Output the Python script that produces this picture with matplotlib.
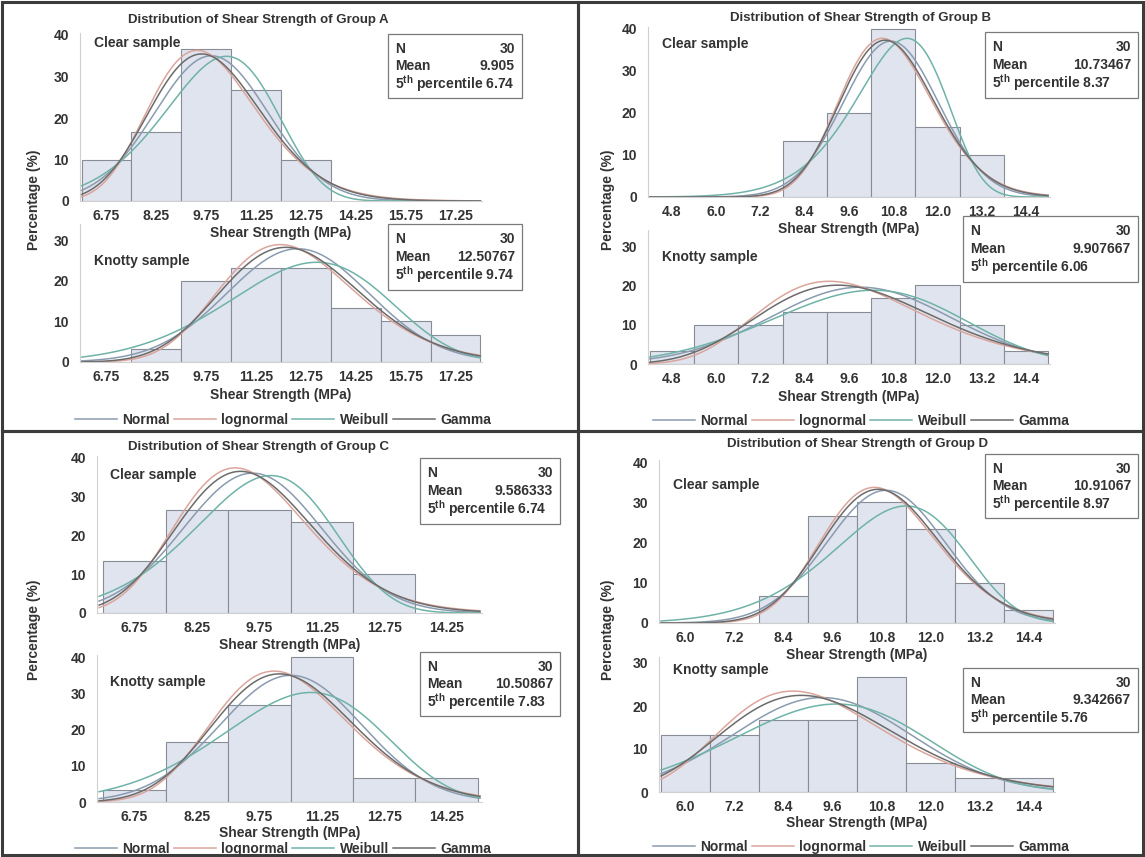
import math
import numpy as np
import matplotlib
matplotlib.use("Agg")
import matplotlib.pyplot as plt
from matplotlib.patches import Rectangle
from matplotlib.lines import Line2D

plt.rcParams['font.family'] = ['Liberation Sans', 'DejaVu Sans']
plt.rcParams['font.weight'] = 'bold'
plt.rcParams['axes.labelweight'] = 'bold'
plt.rcParams['mathtext.fontset'] = 'custom'
plt.rcParams['mathtext.rm'] = 'Liberation Sans:bold'
plt.rcParams['mathtext.bf'] = 'Liberation Sans:bold'

# ---- data ----
ticks_A = [6.75, 8.25, 9.75, 11.25, 12.75, 14.25, 15.75, 17.25]
ticks_B = [4.8, 6.0, 7.2, 8.4, 9.6, 10.8, 12.0, 13.2, 14.4]
ticks_C = [6.75, 8.25, 9.75, 11.25, 12.75, 14.25]
ticks_D = [6.0, 7.2, 8.4, 9.6, 10.8, 12.0, 13.2, 14.4]

A_clear_bins = [6.75, 8.25, 9.75, 11.25, 12.75]
A_clear_pct = [10.0, 16.67, 36.67, 26.67, 10.0]
A_knotty_bins = [6.75, 8.25, 9.75, 11.25, 12.75, 14.25, 15.75, 17.25]
A_knotty_pct = [0.0, 3.33, 20.0, 23.33, 23.33, 13.33, 10.0, 6.67]

B_clear_bins = [8.4, 9.6, 10.8, 12.0, 13.2]
B_clear_pct = [13.33, 20.0, 40.0, 16.67, 10.0]
B_knotty_bins = [4.8, 6.0, 7.2, 8.4, 9.6, 10.8, 12.0, 13.2, 14.4]
B_knotty_pct = [3.33, 10.0, 10.0, 13.33, 13.33, 16.67, 20.0, 10.0, 3.33]

C_clear_bins = [6.75, 8.25, 9.75, 11.25, 12.75]
C_clear_pct = [13.33, 26.67, 26.67, 23.33, 10.0]
C_knotty_bins = [6.75, 8.25, 9.75, 11.25, 12.75, 14.25]
C_knotty_pct = [3.33, 16.67, 26.67, 40.0, 6.67, 6.67]

D_clear_bins = [8.4, 9.6, 10.8, 12.0, 13.2, 14.4]
D_clear_pct = [6.67, 26.67, 30.0, 23.33, 10.0, 3.33]
D_knotty_bins = [6.0, 7.2, 8.4, 9.6, 10.8, 12.0, 13.2, 14.4]
D_knotty_pct = [13.33, 13.33, 16.67, 16.67, 26.67, 6.67, 3.33, 3.33]

# N, mean, 5th percentile shown in the boxes
n_vals = [30, 30, 30, 30, 30, 30, 30, 30]
mean_txt = ['9.905', '12.50767', '10.73467', '9.907667',
            '9.586333', '10.50867', '10.91067', '9.342667']
p5_txt = ['6.74', '9.74', '8.37', '6.06', '6.74', '7.83', '8.97', '5.76']
fit_sd = [1.71, 2.14, 1.29, 2.45, 1.66, 1.71, 1.45, 2.18]
weib_sd = [1.75, 2.45, 1.34, 2.5, 1.72, 2.0, 1.7, 2.3]

fit_names = ['Normal', 'lognormal', 'Weibull', 'Gamma']
fit_colors = ['#8a9bb0', '#dba59c', '#6fb3a8', '#6b6b6b']

TXT = '#333333'
FS = 9.5
W, H = 1145, 857
fig = plt.figure(figsize=(W / 100, H / 100), dpi=100)


def pdf_normal(x, m, s):
    return np.exp(-(x - m) ** 2 / (2 * s * s)) / (s * math.sqrt(2 * math.pi))


def pdf_lognormal(x, m, s):
    sl = math.sqrt(math.log(1 + (s / m) ** 2))
    mu = math.log(m) - sl * sl / 2
    return np.exp(-(np.log(x) - mu) ** 2 / (2 * sl * sl)) / (x * sl * math.sqrt(2 * math.pi))


def pdf_gamma(x, m, s):
    k = (m / s) ** 2
    th = s * s / m
    return np.exp((k - 1) * np.log(x) - x / th - math.lgamma(k) - k * math.log(th))


def pdf_weibull(x, m, s):
    cv2 = (s / m) ** 2
    lo, hi = 0.5, 60.0
    for _ in range(80):
        k = (lo + hi) / 2
        v = math.gamma(1 + 2 / k) / math.gamma(1 + 1 / k) ** 2 - 1
        if v > cv2:
            lo = k
        else:
            hi = k
    lam = m / math.gamma(1 + 1 / k)
    return (k / lam) * (x / lam) ** (k - 1) * np.exp(-(x / lam) ** k)


def px_axes(left, right, y0, ppu, ymax):
    top = y0 - ppu * ymax
    return fig.add_axes([left / W, 1 - y0 / H, (right - left) / W, (y0 - top) / H])


def draw_sub(ax, bins, pct, width, idx, xlim, ticks, ymax, yticks):
    m = float(mean_txt[idx])
    s = fit_sd[idx]
    ax.bar(bins, pct, width=width, color='#dfe4ee', edgecolor='#878c96',
           linewidth=0.8, zorder=1)
    x = np.linspace(xlim[0] + 0.05, xlim[1] - 0.05, 300)
    sc = 100 * width
    ys = [pdf_normal(x, m, s), pdf_lognormal(x, m, s),
          pdf_weibull(x, m, weib_sd[idx]), pdf_gamma(x, m, s)]
    for y, c in zip(ys, fit_colors):
        ax.plot(x, y * sc, color=c, lw=1.1, zorder=2)
    ax.set_xlim(*xlim)
    ax.set_ylim(0, ymax)
    ax.set_xticks(ticks)
    ax.set_xticklabels(['%g' % t if t != int(t) else '%.1f' % t for t in ticks],
                       fontweight='bold')
    ax.set_yticks(yticks)
    ax.set_yticklabels([str(t) for t in yticks], fontweight='bold')
    ax.tick_params(length=0, labelsize=FS + 0.5, colors=TXT, pad=6)
    ax.tick_params(axis='y', pad=8)
    for sp in ['top', 'right']:
        ax.spines[sp].set_visible(False)
    for sp in ['left', 'bottom']:
        ax.spines[sp].set_color('#d0d0d0')
        ax.spines[sp].set_linewidth(0.8)
    ax.set_facecolor('none')


def stat_box(idx, x0, x1, ytop, h):
    fs = 10
    fig.patches.append(Rectangle((x0 / W, 1 - (ytop + h) / H), (x1 - x0) / W, h / H,
                                 transform=fig.transFigure, fill=True, facecolor='white',
                                 edgecolor='#7a7a7a', lw=0.9, zorder=5))
    rows = [('N', str(n_vals[idx])), ('Mean', mean_txt[idx])]
    step = h * 0.27
    for k, (a, b) in enumerate(rows):
        yy = 1 - (ytop + h * 0.23 + step * k) / H
        fig.text((x0 + 7) / W, yy, a, fontsize=fs, color=TXT, va='center',
                 fontweight='bold', zorder=6)
        fig.text((x1 - 7) / W, yy, b, fontsize=fs, color=TXT, va='center', ha='right',
                 fontweight='bold', zorder=6)
    fig.text((x0 + 7) / W, 1 - (ytop + h * 0.23 + step * 2) / H,
             r'5$^{\mathrm{th}}$ percentile ' + p5_txt[idx],
             fontsize=fs, color=TXT, va='center', fontweight='bold', zorder=6)


def panel(ox, oy, letter, title_xy, subs, legend_y, ylab_x):
    fig.text(title_xy[0] / W, 1 - title_xy[1] / H,
             'Distribution of Shear Strength of Group ' + letter,
             ha='center', va='center', fontsize=FS, color=TXT, fontweight='bold')
    for sb in subs:
        ax = px_axes(*sb['pos'])
        draw_sub(ax, sb['bins'], sb['pct'], sb['w'], sb['idx'], sb['xlim'],
                 sb['ticks'], sb['ymax'], sb['yticks'])
        ax.set_xlabel('Shear Strength (MPa)', fontsize=FS + 0.5, color=TXT,
                      labelpad=sb['xpad'], fontweight='bold')
        ax.text(0.035, sb['lab_y'], sb['label'], transform=ax.transAxes,
                fontsize=FS + 0.5, color=TXT, va='center', fontweight='bold')
        stat_box(sb['idx'], *sb['box'])
    fig.text(ylab_x / W, 1 - (oy + 200) / H, 'Percentage (%)', rotation=90,
             ha='center', va='center', fontsize=FS + 0.5, color=TXT, fontweight='bold')
    handles = [Line2D([], [], color=c, lw=1.1) for c in fit_colors]
    fig.legend(handles, fit_names, loc='center',
               bbox_to_anchor=((ox + 283) / W, 1 - legend_y / H), ncol=4,
               frameon=False, handlelength=3.0, handletextpad=0.4,
               columnspacing=0.3, prop={'weight': 'bold', 'size': FS + 0.5},
               labelcolor=TXT)


# Group A
panel(0, 0, 'A', (258, 20), [
    dict(pos=(80, 482, 201, 4.15, 40.5), bins=A_clear_bins, pct=A_clear_pct, w=1.5, idx=0,
         xlim=(5.95, 18.05), ticks=ticks_A, ymax=40.5, yticks=[0, 10, 20, 30, 40],
         label='Clear sample', lab_y=0.94, xpad=2, box=(388, 522, 34, 64)),
    dict(pos=(80, 482, 362, 4.05, 34), bins=A_knotty_bins, pct=A_knotty_pct, w=1.5, idx=1,
         xlim=(5.95, 18.05), ticks=ticks_A, ymax=34, yticks=[0, 10, 20, 30],
         label='Knotty sample', lab_y=0.73, xpad=3, box=(388, 522, 224, 66)),
], 420, 34)

# Group B
panel(578, 0, 'B', (860, 18), [
    dict(pos=(648, 1050, 197, 4.2, 40.5), bins=B_clear_bins, pct=B_clear_pct, w=1.2, idx=2,
         xlim=(4.15, 15.05), ticks=ticks_B, ymax=40.5, yticks=[0, 10, 20, 30, 40],
         label='Clear sample', lab_y=0.9, xpad=2, box=(985, 1138, 32, 66)),
    dict(pos=(648, 1050, 364, 3.93, 34), bins=B_knotty_bins, pct=B_knotty_pct, w=1.2, idx=3,
         xlim=(4.15, 15.05), ticks=ticks_B, ymax=34, yticks=[0, 10, 20, 30],
         label='Knotty sample', lab_y=0.8, xpad=3, box=(963, 1138, 216, 66)),
], 421, 608)

# Group C
panel(0, 430, 'C', (258, 447), [
    dict(pos=(97, 482, 613, 3.88, 40.5), bins=C_clear_bins, pct=C_clear_pct, w=1.5, idx=4,
         xlim=(5.85, 15.1), ticks=ticks_C, ymax=40.5, yticks=[0, 10, 20, 30, 40],
         label='Clear sample', lab_y=0.88, xpad=2, box=(420, 560, 458, 66)),
    dict(pos=(97, 482, 802, 3.62, 40.5), bins=C_knotty_bins, pct=C_knotty_pct, w=1.5, idx=5,
         xlim=(5.85, 15.1), ticks=ticks_C, ymax=40.5, yticks=[0, 10, 20, 30, 40],
         label='Knotty sample', lab_y=0.82, xpad=1, box=(420, 560, 652, 64)),
], 849, 34)

# Group D
panel(578, 430, 'D', (858, 444), [
    dict(pos=(659, 1055, 623, 4.02, 40.5), bins=D_clear_bins, pct=D_clear_pct, w=1.2, idx=6,
         xlim=(5.35, 15.05), ticks=ticks_D, ymax=40.5, yticks=[0, 10, 20, 30, 40],
         label='Clear sample', lab_y=0.85, xpad=2, box=(985, 1138, 454, 64)),
    dict(pos=(659, 1055, 792, 4.3, 31.5), bins=D_knotty_bins, pct=D_knotty_pct, w=1.2, idx=7,
         xlim=(5.35, 15.05), ticks=ticks_D, ymax=31.5, yticks=[0, 10, 20, 30],
         label='Knotty sample', lab_y=0.9, xpad=1, box=(963, 1138, 668, 64)),
], 847, 608)

# panel frames
for (x0, y0, x1, y1) in [(2, 2, 578, 431), (578, 2, 1143, 431),
                         (2, 431, 578, 855), (578, 431, 1143, 855)]:
    fig.patches.append(Rectangle((x0 / W, 1 - y1 / H), (x1 - x0) / W, (y1 - y0) / H,
                                 transform=fig.transFigure, fill=False,
                                 edgecolor='#3c3c3c', lw=2.2, zorder=10))

fig.savefig('out.png', dpi=100)
